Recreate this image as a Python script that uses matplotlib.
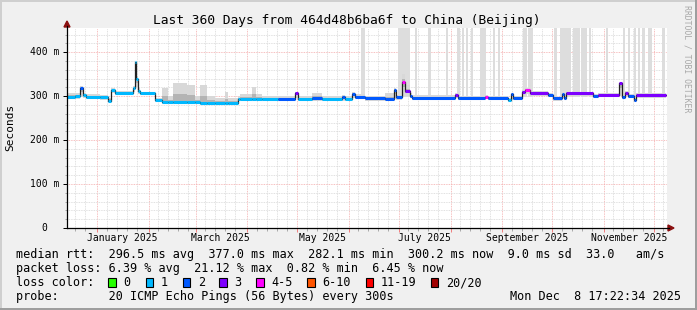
import numpy as np
import matplotlib.pyplot as plt
from matplotlib.patches import Rectangle, Polygon
from matplotlib.lines import Line2D

W, H = 697, 310
MONO = 'DejaVu Sans Mono'

# median rtt (ms) as steps: start day (since graph start), value, loss class, smoke range
seg_day = [0, 4.8, 7.8, 9.6, 11.4, 19.8, 24.6, 26.4, 28.8, 39.6, 40.5, 41.4, 42.3, 43.8,
           52.8, 57, 60.6, 63.6, 72, 76.8, 79.8, 84, 88.8, 94.8, 96.6, 102.6, 103.8, 111,
           113.4, 117, 126.6, 136.8, 138.6, 147, 153, 165, 166.8, 171, 172.8, 178.8, 190.8,
           196.2, 197.4, 201, 202.8, 205.8, 207, 232.8, 234.6, 250.8, 252.6, 264.6, 266.4,
           267.6, 273, 274.8, 277.8, 288.6, 291.6, 297, 298.2, 299.4, 315.6, 318.6, 331.2,
           333, 334.8, 336.6, 340.2, 341.4]
median = [299, 300, 318, 302, 298, 297, 290, 313, 307, 318, 377, 338, 312, 306,
          291, 287, 287, 287, 287, 286, 285, 285, 285, 285, 285, 294, 294, 294,
          294, 294, 294, 307, 294, 296, 294, 298, 294, 304, 298, 295, 293,
          314, 297, 333, 312, 300, 296, 303, 296, 299, 296, 291, 304,
          296, 310, 315, 307, 302, 295, 304, 296, 307, 301, 302, 329,
          298, 307, 301, 291, 302]
loss = [1, 1, 2, 1, 1, 1, 1, 1, 1, 1, 1, 1, 1, 1,
        1, 1, 1, 1, 1, 1, 1, 1, 1, 1, 1, 1, 1, 1,
        1, 1, 2, 3, 1, 2, 1, 2, 1, 2, 2, 2, 2,
        2, 2, 4, 3, 2, 2, 3, 2, 4, 2, 1, 2,
        2, 3, 4, 3, 2, 2, 2, 2, 3, 2, 3, 3,
        2, 3, 2, 2, 3]
smoke_hi = [306, 308, 322, 306, 304, 303, 296, 318, 312, 322, 377, 345, 318, 310,
            296, 318, 300, 330, 325, 300, 325, 300, 296, 309, 296, 300, 305, 320,
            305, 300, 300, 310, 300, 308, 300, 303, 300, 310, 304, 300, 306,
            318, 302, 350, 325, 306, 302, 306, 301, 303, 301, 296, 306,
            300, 314, 318, 311, 306, 299, 307, 300, 310, 305, 306, 331,
            303, 311, 305, 295, 306]
smoke_lo = [294, 294, 298, 296, 293, 292, 286, 306, 303, 310, 330, 320, 304, 302,
            287, 282, 282, 282, 282, 281, 280, 280, 280, 280, 280, 288, 289, 289,
            289, 289, 289, 296, 289, 290, 289, 290, 289, 296, 293, 290, 289,
            293, 292, 300, 300, 295, 291, 295, 291, 293, 291, 287, 292,
            291, 300, 304, 300, 297, 290, 296, 291, 300, 296, 297, 300,
            294, 300, 296, 287, 296]
end_day = 359.4

# periods where the smoke runs off the top of the graph
bar_start = [176.4, 198.6, 208.8, 216.6, 227.4, 234, 237, 239.4, 242.4, 247.8, 255.6, 258.6,
             273.6, 276.6, 292.2, 295.8, 303.6, 308.4, 313.2, 323.4, 333.6, 336.6, 340.2,
             342.6, 345, 348.6, 357]
bar_end = [178.8, 205.8, 210, 218.4, 228.6, 235.8, 238.2, 240.6, 243.6, 251.4, 256.8, 259.8,
           276, 279.6, 294, 302.4, 307.8, 312, 314.4, 324.6, 334.8, 337.8, 341.4,
           343.8, 346.8, 351, 358.8]

loss_labels = ['0', '1', '2', '3', '4-5', '6-10', '11-19', '20/20']
loss_colors = ['#26ff00', '#00b8ff', '#0059ff', '#7e00ff', '#ff00ff', '#ff5500', '#ff0000', '#a10000']

y_ticks = [0, 100, 200, 300, 400]
y_labels = ['0', '100 m', '200 m', '300 m', '400 m']

start = np.datetime64('2024-12-13T17:22:34')
months = np.arange('2025-01', '2026-01', dtype='datetime64[M]')
month_names = ['January', 'February', 'March', 'April', 'May', 'June', 'July',
               'August', 'September', 'October', 'November', 'December']


def days_since(t):
    return (t.astype('datetime64[s]') - start) / np.timedelta64(1, 'D')


def fx(x):
    return x / W


def fy(y):
    return 1 - y / H


fig = plt.figure(figsize=(W / 100, H / 100), dpi=100, facecolor='#f0f0f0')
ax = fig.add_axes([fx(67), fy(228), 600 / W, 200 / H])
ax.set_facecolor('white')
ax.set_xlim(0, 360)
ax.set_ylim(0, 455)
for s in ax.spines.values():
    s.set_visible(False)

# grid
month_x = [days_since(m) for m in months]
week_x = []
for m in np.arange('2024-12', '2026-01', dtype='datetime64[M]'):
    for k in (5.5, 11.5, 17.5, 23.5):
        d = days_since(m) + k
        if 0 < d < 360:
            week_x.append(d)
ax.set_xticks([d for d in month_x if d < 360])
ax.set_xticks(week_x, minor=True)
ax.set_yticks(y_ticks)
ax.set_yticks(np.arange(0, 455, 20), minor=True)
ax.grid(which='minor', color='#d6d6d6', ls=(0, (1, 1)), lw=0.6)
ax.grid(which='major', color='#f4aaaa', ls=(0, (1, 1)), lw=0.6)
ax.set_axisbelow(True)
ax.tick_params(which='both', labelbottom=False, labelleft=False)
ax.tick_params(axis='x', which='major', length=3, color='#f08080', width=0.72)
ax.tick_params(axis='x', which='minor', length=2, color='#aaaaaa', width=0.72)
ax.tick_params(axis='y', which='major', length=3, color='black', width=0.72)
ax.tick_params(axis='y', which='minor', length=1.5, color='#aaaaaa', width=0.72)

# off-scale smoke bars
for a, b in zip(bar_start, bar_end):
    ax.fill_between([a, b], 298, 455, color='#dddddd', lw=0, zorder=1)

# smoke
xs = np.append(seg_day, end_day)
med = np.append(median, median[-1])
hi = np.append(smoke_hi, smoke_hi[-1])
lo = np.append(smoke_lo, smoke_lo[-1])
ax.fill_between(xs, lo, hi, step='post', color='#d8d8d8', lw=0, zorder=2)
ax.fill_between(xs, med + (lo - med) * 0.4, med + (hi - med) * 0.4, step='post',
                color='#b4b4b4', lw=0, zorder=2)

# median line + loss colour band
ax.step(xs, med, where='post', color='#202020', lw=0.9, zorder=3)
seg_end = np.append(seg_day[1:], end_day)
ax.hlines(median, seg_day, seg_end, colors=[loss_colors[i] for i in loss],
          lw=2.2, capstyle='butt', zorder=4)

# axis lines with arrows
fig.add_artist(Line2D([fx(67), fx(669)], [fy(228), fy(228)], color='black', lw=0.9))
fig.add_artist(Line2D([fx(67), fx(67)], [fy(228), fy(26)], color='black', lw=0.9))
fig.add_artist(Polygon([(fx(668), fy(225)), (fx(674), fy(228)), (fx(668), fy(231))],
                       closed=True, color='#8b1010'))
fig.add_artist(Polygon([(fx(64), fy(27)), (fx(67), fy(21)), (fx(70), fy(27))],
                       closed=True, color='#8b1010'))

# axis labels
for v, lab in zip(y_ticks, y_labels):
    off = -20 if v == 0 else -8
    ax.text(off / 600, v, lab, transform=ax.get_yaxis_transform(), ha='right',
            va='center', family=MONO, fontsize=7)
xt = ax.get_xaxis_transform()
for m, name in zip(months, month_names):
    if name in ('January', 'March', 'May', 'July', 'September', 'November'):
        ax.text(days_since(m) + 15, -13 / 200, f'{name} 2025', transform=xt,
                ha='center', va='baseline', family=MONO, fontsize=7)

fig.text(fx(347), fy(24), 'Last 360 Days from 464d48b6ba6f to China (Beijing)',
         ha='center', va='baseline', family=MONO, fontsize=9.3)
fig.text(fx(10), fy(127), 'Seconds', rotation=90, ha='center', va='center',
         family=MONO, fontsize=8)
fig.text(fx(687), fy(5), 'RRDTOOL / TOBI OETIKER', rotation=270, ha='center', va='top',
         family=MONO, fontsize=5.9, color='#a8a8a8')

# legend block
rows = [
    'median rtt:  296.5 ms avg  377.0 ms max  282.1 ms min  300.2 ms now  9.0 ms sd  33.0   am/s',
    'packet loss: 6.39 % avg  21.12 % max  0.82 % min  6.45 % now',
    'loss color:',
    'probe:       20 ICMP Echo Pings (56 Bytes) every 300s',
]
for i, r in enumerate(rows):
    fig.text(fx(16), fy(258 + 14 * i), r, ha='left', va='baseline', family=MONO, fontsize=8.5)
fig.text(fx(681), fy(300), 'Mon Dec  8 17:22:34 2025', ha='right', va='baseline',
         family=MONO, fontsize=8.5)

sw_x = [108, 145.7, 182.7, 219.3, 256, 307.3, 365.7, 430.7]
for x, lab, col in zip(sw_x, loss_labels, loss_colors):
    fig.add_artist(Rectangle((fx(x), fy(286.5)), 7.5 / W, 8.5 / H, facecolor=col,
                             edgecolor='black', lw=0.8))
    fig.text(fx(x + 15), fy(286), lab, ha='left', va='baseline', family=MONO, fontsize=8.5)

# frame shading
fig.add_artist(Rectangle((0, fy(2)), 1, 2 / H, color='#cfcfcf', lw=0))
fig.add_artist(Rectangle((0, 0), 2 / W, 1, color='#cfcfcf', lw=0))
fig.add_artist(Rectangle((0, 0), 1, 2 / H, color='#9e9e9e', lw=0))
fig.add_artist(Rectangle((1 - 2 / W, 0), 2 / W, 1, color='#9e9e9e', lw=0))

fig.savefig('out.png', dpi=100, facecolor=fig.get_facecolor())
